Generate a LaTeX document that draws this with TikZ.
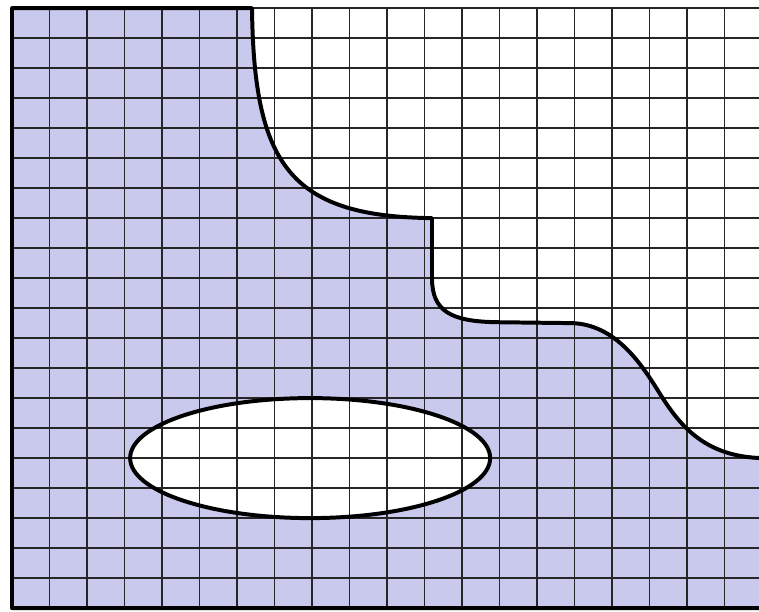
\documentclass[tikz,border=0pt]{standalone}
\usepackage{tikz}
\definecolor{regionblue}{RGB}{201,201,237}
\tikzset{
  boundary/.style={line width=3pt, line join=round},
  gridline/.style={line width=1pt, black!85}
}
\begin{document}
\begin{tikzpicture}[x=0.99375cm,y=0.795cm]
  \useasboundingbox (-0.32,-0.1) rectangle (19.92,20.27);

  %% shaded region
  \fill[regionblue] (0,0) -- (0,20) -- (6.4,20)
    .. controls (6.45,14.8) and (7.4,13.05) .. (11.2,13)
    -- (11.2,11) .. controls (11.2,9.9) and (11.7,9.56) .. (12.9,9.53)
    -- (14.9,9.5) .. controls (16.1,9.48) and (16.8,8.1) .. (17.25,7.2)
    .. controls (17.75,6.2) and (18.4,5.05) .. (20,5)
    -- (20,0) -- cycle;

  %% hole
  \fill[white] (7.95,5) ellipse (4.8 and 2);

  %% grid
  \draw[gridline, step={(1,1)}] (0,0) grid (20,20);

  %% boundary
  \draw[boundary] (20,0) -- (0,0) -- (0,20) -- (6.4,20)
    .. controls (6.45,14.8) and (7.4,13.05) .. (11.2,13)
    -- (11.2,11) .. controls (11.2,9.9) and (11.7,9.56) .. (12.9,9.53)
    -- (14.9,9.5) .. controls (16.1,9.48) and (16.8,8.1) .. (17.25,7.2)
    .. controls (17.75,6.2) and (18.4,5.05) .. (20,5);
  \draw[boundary] (7.95,5) ellipse (4.8 and 2);

\end{tikzpicture}
\end{document}
